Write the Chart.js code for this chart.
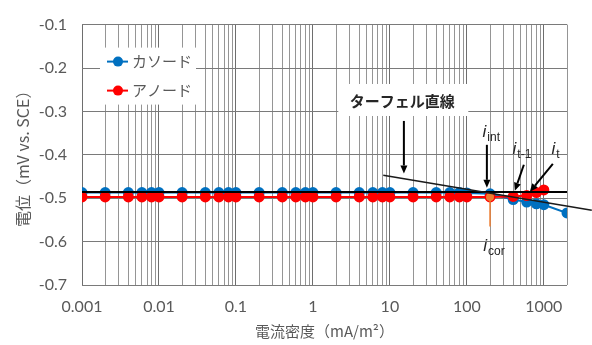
<!DOCTYPE html>
<html><head><meta charset="utf-8">
<script src="https://cdn.jsdelivr.net/npm/chart.js@4/dist/chart.umd.min.js"></script>
<style>html,body{margin:0;padding:0;background:#fff;overflow:hidden}</style>
</head><body>
<canvas id="c" width="592" height="345"></canvas>
<script>
// ---- data ----
const cathodeCurrent = [0.001,0.002,0.004,0.006,0.008,0.01,0.02,0.04,0.06,0.08,0.1,0.2,0.4,0.6,0.8,1,2,4,6,8,10,20,40,60,80,100,200,400,600,800,1000,2000];
const cathodePotential = [-0.487,-0.487,-0.487,-0.487,-0.487,-0.487,-0.487,-0.487,-0.487,-0.487,-0.487,-0.487,-0.487,-0.487,-0.487,-0.487,-0.487,-0.487,-0.487,-0.487,-0.487,-0.487,-0.487,-0.487,-0.487,-0.488,-0.490,-0.503,-0.509,-0.513,-0.515,-0.534];
const anodeCurrent = [0.001,0.002,0.004,0.006,0.008,0.01,0.02,0.04,0.06,0.08,0.1,0.2,0.4,0.6,0.8,1,2,4,6,8,10,20,40,60,80,100,200,400,600,800,1000];
const anodePotential = [-0.497,-0.497,-0.497,-0.497,-0.497,-0.497,-0.497,-0.497,-0.497,-0.497,-0.497,-0.497,-0.497,-0.497,-0.497,-0.497,-0.497,-0.497,-0.497,-0.497,-0.497,-0.497,-0.497,-0.497,-0.497,-0.497,-0.497,-0.496,-0.494,-0.487,-0.481];
const tafelSlopeX = [8.2, 4200];
const tafelSlopeY = [-0.447, -0.528];
const tafelFlatX = [0.001, 2000];
const tafelFlatY = [-0.486, -0.486];
const icorX = [200, 200];
const icorY = [-0.497, -0.565];
const xMajorTicks = [0.001,0.01,0.1,1,10,100,1000];
const xTickLabels = ['0.001','0.01','0.1','1','10','100','1000'];
const yTicks = [-0.7,-0.6,-0.5,-0.4,-0.3,-0.2,-0.1];
const yTickLabels = ['-0.7','-0.6','-0.5','-0.4','-0.3','-0.2','-0.1'];
const seriesNames = ['カソード','アノード'];
// annotation anchors in data units
const tafelLabel = {x:14.5, y:-0.276, text:'ターフェル直線'};
const arrows = [
  {x1:15.2, y1:-0.322, x2:15.2, y2:-0.443},
  {x1:182, y1:-0.377, x2:182, y2:-0.476},
  {x1:550, y1:-0.423, x2:420, y2:-0.483},
  {x1:1310, y1:-0.421, x2:658, y2:-0.485}
];
const subLabels = [
  {x:160, y:-0.358, main:'i', sub:'int'},
  {x:392, y:-0.398, main:'i', sub:'t-1'},
  {x:1260, y:-0.398, main:'i', sub:'t'},
  {x:163, y:-0.622, main:'i', sub:'cor'}
];

// ---- build ticks ----
const xAllTicks = [];
for (let e = -3; e <= 3; e++) for (let m = 1; m <= 9; m++) {
  const v = +(m * Math.pow(10, e)).toPrecision(6);
  if (v <= 2000) xAllTicks.push(v);
}
const CJK = '"Noto Sans CJK JP", sans-serif';
const NUM = 'Lato, "Noto Sans CJK JP", sans-serif';
const BLUE = '#0070C0', RED = '#FF0000', ORANGE = '#ED7D31';
const zip = (xs, ys) => xs.map((x, i) => ({x, y: ys[i]}));
const isMajor = v => xMajorTicks.some(t => Math.abs(Math.log10(v) - Math.log10(t)) < 1e-6);

const annot = {
  id: 'annot',
  beforeDatasetsDraw(chart) {
    const {ctx, chartArea: a, scales: {x, y}} = chart;
    ctx.save();
    // legend box
    ctx.fillStyle = '#fff';
    ctx.fillRect(a.left + 18, a.top + 23, 96, 57);
    const items = [{c: BLUE, t: seriesNames[0], dy: 37}, {c: RED, t: seriesNames[1], dy: 66}];
    items.forEach(it => {
      const yy = a.top + it.dy;
      ctx.strokeStyle = it.c; ctx.lineWidth = 2;
      ctx.beginPath(); ctx.moveTo(a.left + 25, yy); ctx.lineTo(a.left + 46, yy); ctx.stroke();
      ctx.fillStyle = it.c;
      ctx.beginPath(); ctx.arc(a.left + 36, yy, 5, 0, Math.PI * 2); ctx.fill();
      ctx.fillStyle = '#595959'; ctx.font = '15px ' + CJK;
      ctx.textBaseline = 'middle'; ctx.textAlign = 'left';
      ctx.fillText(it.t, a.left + 50, yy);
    });
    // tafel label box
    const lx = x.getPixelForValue(tafelLabel.x), ly = y.getPixelForValue(tafelLabel.y);
    ctx.fillStyle = '#fff';
    ctx.fillRect(lx - 64, ly - 17, 130, 32);
    ctx.restore();
  },
  afterDatasetsDraw(chart) {
    const {ctx, scales: {x, y}} = chart;
    ctx.save();
    const lx = x.getPixelForValue(tafelLabel.x), ly = y.getPixelForValue(tafelLabel.y);
    ctx.fillStyle = '#262626'; ctx.font = 'bold 15px ' + CJK;
    ctx.textAlign = 'center'; ctx.textBaseline = 'middle';
    ctx.fillText(tafelLabel.text, lx, ly);
    // arrows
    arrows.forEach(ar => {
      const x1 = x.getPixelForValue(ar.x1), y1 = y.getPixelForValue(ar.y1);
      const x2 = x.getPixelForValue(ar.x2), y2 = y.getPixelForValue(ar.y2);
      const ang = Math.atan2(y2 - y1, x2 - x1);
      const hl = 8, hw = 3.5;
      ctx.strokeStyle = '#000'; ctx.lineWidth = 2;
      ctx.beginPath(); ctx.moveTo(x1, y1);
      ctx.lineTo(x2 - Math.cos(ang) * hl, y2 - Math.sin(ang) * hl); ctx.stroke();
      ctx.fillStyle = '#000';
      ctx.beginPath(); ctx.moveTo(x2, y2);
      ctx.lineTo(x2 - Math.cos(ang) * hl - Math.sin(ang) * hw, y2 - Math.sin(ang) * hl + Math.cos(ang) * hw);
      ctx.lineTo(x2 - Math.cos(ang) * hl + Math.sin(ang) * hw, y2 - Math.sin(ang) * hl - Math.cos(ang) * hw);
      ctx.closePath(); ctx.fill();
    });
    // i labels
    subLabels.forEach(l => {
      const px = x.getPixelForValue(l.x), py = y.getPixelForValue(l.y);
      ctx.fillStyle = '#262626'; ctx.textAlign = 'left'; ctx.textBaseline = 'alphabetic';
      ctx.font = 'italic 17px "Liberation Sans", sans-serif';
      ctx.fillText(l.main, px, py);
      const w = ctx.measureText(l.main).width;
      ctx.font = '12px "Liberation Sans", sans-serif';
      ctx.fillText(l.sub, px + w + 1, py + 4);
    });
    ctx.restore();
  }
};

new Chart(document.getElementById('c'), {
  type: 'scatter',
  data: {
    datasets: [
      {label: 'tafel-slope', data: zip(tafelSlopeX, tafelSlopeY), showLine: true, borderColor: '#1a1a1a', borderWidth: 1.5, pointRadius: 0, clip: false},
      {label: 'tafel-flat', data: zip(tafelFlatX, tafelFlatY), showLine: true, borderColor: '#000', borderWidth: 2, pointRadius: 0},
      {label: 'icor', data: zip(icorX, icorY), showLine: true, borderColor: ORANGE, borderWidth: 1.5, pointRadius: [4, 0], pointBackgroundColor: ORANGE, pointBorderWidth: 0},
      {label: seriesNames[1], data: zip(anodeCurrent, anodePotential), showLine: true, borderColor: RED, backgroundColor: RED, borderWidth: 2, pointRadius: 5.5, pointBorderWidth: 0, pointBackgroundColor: RED},
      {label: seriesNames[0], data: zip(cathodeCurrent, cathodePotential), showLine: true, borderColor: BLUE, backgroundColor: BLUE, borderWidth: 2, pointRadius: 5.5, pointBorderWidth: 0, pointBackgroundColor: BLUE}
    ]
  },
  options: {
    responsive: false, animation: false,
    layout: {padding: {top: 15, right: 25, left: 0, bottom: 0}},
    plugins: {legend: {display: false}, tooltip: {enabled: false}},
    scales: {
      x: {
        type: 'logarithmic', min: 0.001, max: 2000,
        afterBuildTicks: s => { s.ticks = xAllTicks.map(v => ({value: v, major: isMajor(v)})); },
        ticks: {
          autoSkip: false, maxRotation: 0, color: '#595959', font: {family: NUM, size: 16}, padding: 12,
          callback: v => { const i = xMajorTicks.findIndex(t => Math.abs(Math.log10(t) - Math.log10(v)) < 1e-6); return i >= 0 ? xTickLabels[i] : ''; }
        },
        grid: {drawTicks: false, color: c => (c.tick && isMajor(c.tick.value)) ? '#6e6e6e' : '#959595', lineWidth: 1},
        border: {display: false},
        title: {display: true, text: '電流密度（mA/m²）', color: '#595959', font: {family: CJK, size: 15}, padding: {top: 0, bottom: 5}},
        afterFit: s => { s.height = 60; }
      },
      y: {
        min: -0.7, max: -0.1,
        afterBuildTicks: s => { s.ticks = yTicks.map(v => ({value: v})); },
        ticks: {
          color: '#595959', font: {family: NUM, size: 16}, padding: 15,
          callback: v => { const i = yTicks.findIndex(t => Math.abs(t - v) < 1e-9); return i >= 0 ? yTickLabels[i] : ''; }
        },
        grid: {drawTicks: false, color: '#7a7a7a', lineWidth: 1},
        border: {display: false},
        title: {display: true, text: '電位（mV vs. SCE）', color: '#595959', font: {family: CJK, size: 16}, padding: {top: 13, bottom: 0}},
        afterFit: s => { s.width = 82; }
      }
    }
  },
  plugins: [annot]
});
</script>
</body></html>
